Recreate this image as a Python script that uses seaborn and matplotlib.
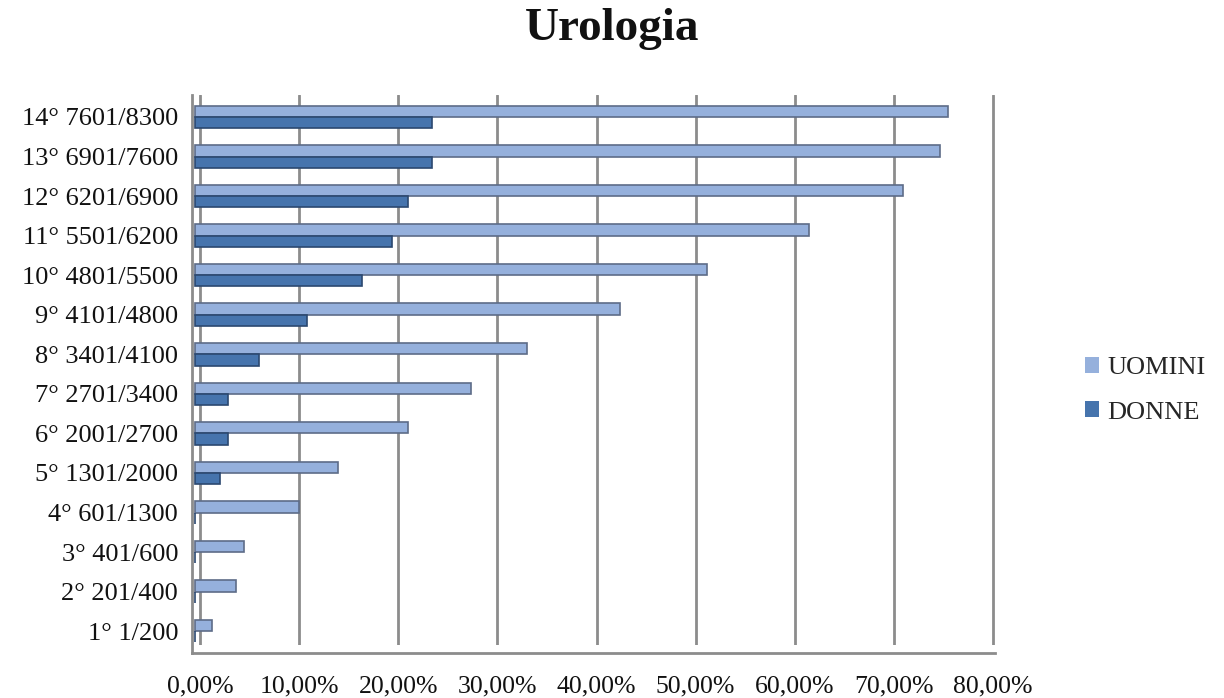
import matplotlib
matplotlib.use("Agg")
import matplotlib.pyplot as plt
import matplotlib.transforms as mtransforms
import seaborn as sns
import pandas as pd
from matplotlib.patches import Patch

categories = ["14° 7601/8300", "13° 6901/7600", "12° 6201/6900", "11° 5501/6200",
              "10° 4801/5500", "9° 4101/4800", "8° 3401/4100", "7° 2701/3400",
              "6° 2001/2700", "5° 1301/2000", "4° 601/1300", "3° 401/600",
              "2° 201/400", "1° 1/200"]
uomini = [76.0, 75.2, 71.4, 61.9, 51.6, 42.9, 33.5, 27.8, 21.5, 14.4, 10.5, 4.9, 4.1, 1.7]
donne = [23.9, 23.9, 21.5, 19.9, 16.8, 11.3, 6.5, 3.3, 3.3, 2.5, 0.0, 0.0, 0.0, 0.0]
series = ["UOMINI", "DONNE"]
xticks = [0, 10, 20, 30, 40, 50, 60, 70, 80]
xtick_labels = ["0,00%", "10,00%", "20,00%", "30,00%", "40,00%", "50,00%", "60,00%", "70,00%", "80,00%"]

colors = {"UOMINI": "#95b0dc", "DONNE": "#4674ad"}
edges = {"UOMINI": "#5d6c88", "DONNE": "#2b4870"}

df = pd.DataFrame({
    "cat": categories * 2,
    "val": uomini + donne,
    "serie": ["UOMINI"] * len(categories) + ["DONNE"] * len(categories),
})

sns.set_theme(style="white")
plt.rcParams["font.family"] = ["Liberation Serif", "DejaVu Serif"]

fig = plt.figure(figsize=(12.24, 6.98), dpi=100)
ax = fig.add_axes([192 / 1224, 53 / 698, (995 - 192) / 1224, (645 - 95) / 698])

sns.barplot(data=df, y="cat", x="val", hue="serie", order=categories,
            hue_order=series, palette=colors, orient="h", width=0.57,
            saturation=1, ax=ax, legend=False, zorder=3)

shift = mtransforms.ScaledTranslation(-5 / 100, 0, fig.dpi_scale_trans)
for bars, s in zip(ax.containers, series):
    for b in bars:
        b.set_edgecolor(edges[s])
        b.set_linewidth(1.2)
        b.set_transform(ax.transData + shift)

ax.set_xlim(-0.81, 80.2)
ax.set_ylim(13.35, -0.556)
ax.set_xticks(xticks)
ax.set_xticklabels(xtick_labels)
ax.tick_params(axis="y", labelsize=19, colors="#111111", length=0, pad=10)
ax.tick_params(axis="x", direction="in", length=6, width=2, color="#8c8c8c",
               labelsize=18.5, labelcolor="#111111", pad=16)
lab_shift = mtransforms.ScaledTranslation(-9 / 100, 0, fig.dpi_scale_trans)
for lab in ax.get_xticklabels():
    lab.set_transform(lab.get_transform() + lab_shift)
ax.set_xlabel("")
ax.set_ylabel("")
ax.xaxis.grid(True, color="#8c8c8c", linewidth=2, zorder=0)
ax.yaxis.grid(False)
for side in ["top", "right"]:
    ax.spines[side].set_visible(False)
for side in ["left", "bottom"]:
    ax.spines[side].set_color("#8c8c8c")
    ax.spines[side].set_linewidth(2)
ax.spines["bottom"].set_position(("outward", 6))
ax.spines["left"].set_bounds(13.35 + 0.2, -0.556)

fig.text(0.5, 0.988, "Urologia", ha="center", va="top", fontsize=34, fontweight="bold", color="#111111")

handles = [Patch(facecolor=colors[s], edgecolor="none", label=s) for s in series]
fig.legend(handles=handles, loc="center left", bbox_to_anchor=(0.867, 0.441), frameon=False,
           fontsize=19, handlelength=0.55, handleheight=0.55, handletextpad=0.3, labelspacing=0.85)

fig.savefig("out.png", dpi=100)
